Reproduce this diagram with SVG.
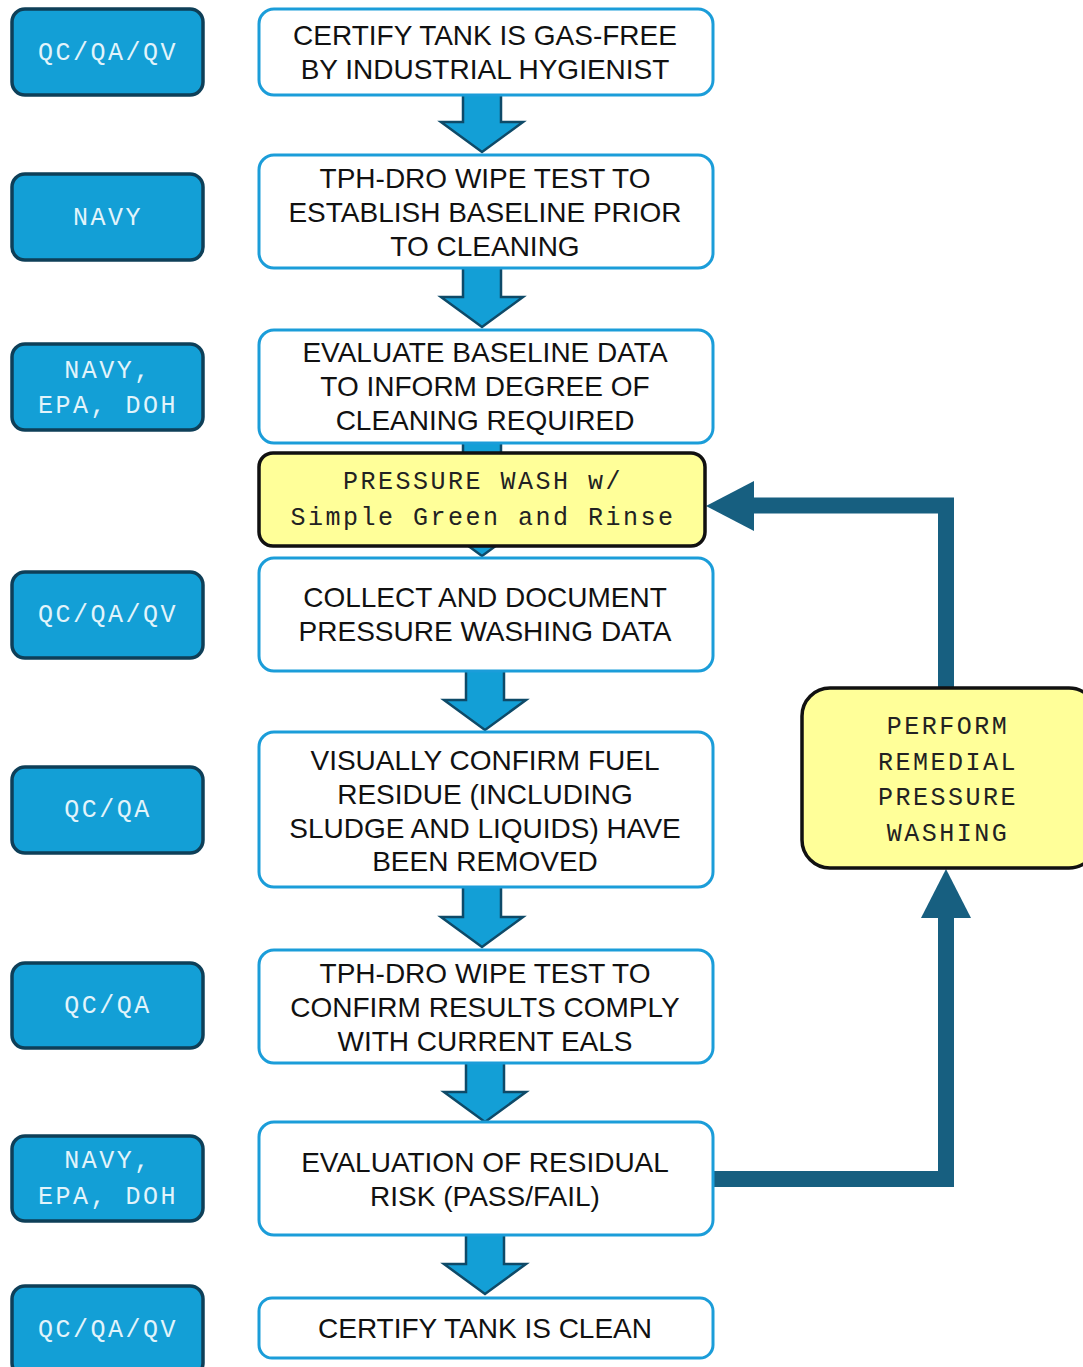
<svg xmlns="http://www.w3.org/2000/svg" width="1083" height="1367" viewBox="0 0 1083 1367">
<style>
.role rect{fill:#139fd6;stroke:#0e3f58;stroke-width:3.5}
.role text{font-family:"Liberation Mono",monospace;font-size:25px;letter-spacing:2.5px;fill:#e2f4fb;text-anchor:middle}
.step rect{fill:#fff;stroke:#1b9dd9;stroke-width:3}
.step text{font-family:"Liberation Sans",Arial,sans-serif;font-size:28px;fill:#111;text-anchor:middle}
.act rect{fill:#ffff99;stroke:#111;stroke-width:3.5}
.act text{font-family:"Liberation Mono",monospace;font-size:25px;letter-spacing:2.5px;fill:#222;text-anchor:middle}
.blk{fill:#139fd6;stroke:#0e4a68;stroke-width:2.5;stroke-linejoin:miter}
.fb{fill:none;stroke:#175f80;stroke-width:16;stroke-linejoin:miter}
.fbh{fill:#175f80}
</style>
<rect width="1083" height="1367" fill="#fff"/>

<g id="connectors">
  <polygon class="blk" points="463,93 501,93 501,122 523,122 482,152 441,122 463,122"/>
  <polygon class="blk" points="463,267 501,267 501,297 523,297 482,327 441,297 463,297"/>
  <polygon class="blk" points="463,442 501,442 501,526 523,526 482,556 441,526 463,526"/>
  <polygon class="blk" points="466,670 504,670 504,700 526,700 485,730 444,700 466,700"/>
  <polygon class="blk" points="463,886 501,886 501,917 523,917 482,947 441,917 463,917"/>
  <polygon class="blk" points="466,1062 504,1062 504,1092 526,1092 485,1122 444,1092 466,1092"/>
  <polygon class="blk" points="466,1234 504,1234 504,1264 526,1264 485,1294 444,1264 466,1264"/>
  <polyline class="fb" points="946,688 946,505.5 750,505.5"/>
  <polygon class="fbh" points="754,481 754,531 706,506"/>
  <polyline class="fb" points="713,1179 946,1179 946,912"/>
  <polygon class="fbh" points="921,918 971,918 946,869"/>
</g>

<g id="role1" class="role"><rect x="12" y="9" width="191" height="86" rx="13"/><text x="108" y="60">QC/QA/QV</text></g>
<g id="role2" class="role"><rect x="12" y="174" width="191" height="86" rx="13"/><text x="108" y="225">NAVY</text></g>
<g id="role3" class="role"><rect x="12" y="344" width="191" height="86" rx="13"/><text x="108" y="378">NAVY,</text><text x="108" y="413">EPA, DOH</text></g>
<g id="role4" class="role"><rect x="12" y="572" width="191" height="86" rx="13"/><text x="108" y="622">QC/QA/QV</text></g>
<g id="role5" class="role"><rect x="12" y="767" width="191" height="86" rx="13"/><text x="108" y="817">QC/QA</text></g>
<g id="role6" class="role"><rect x="12" y="963" width="191" height="85" rx="13"/><text x="108" y="1013">QC/QA</text></g>
<g id="role7" class="role"><rect x="12" y="1136" width="191" height="85" rx="13"/><text x="108" y="1168">NAVY,</text><text x="108" y="1204">EPA, DOH</text></g>
<g id="role8" class="role"><rect x="12" y="1286" width="191" height="90" rx="13"/><text x="108" y="1337">QC/QA/QV</text></g>

<g id="step1" class="step"><rect x="259" y="9" width="454" height="86" rx="15"/><text x="485" y="45">CERTIFY TANK IS GAS-FREE</text><text x="485" y="79">BY INDUSTRIAL HYGIENIST</text></g>
<g id="step2" class="step"><rect x="259" y="155" width="454" height="113" rx="15"/><text x="485" y="188">TPH-DRO WIPE TEST TO</text><text x="485" y="222">ESTABLISH BASELINE PRIOR</text><text x="485" y="256">TO CLEANING</text></g>
<g id="step3" class="step"><rect x="259" y="330" width="454" height="113" rx="15"/><text x="485" y="362">EVALUATE BASELINE DATA</text><text x="485" y="396">TO INFORM DEGREE OF</text><text x="485" y="430">CLEANING REQUIRED</text></g>
<g id="wash" class="act"><rect x="259" y="453" width="446" height="93" rx="14"/><text x="483" y="489">PRESSURE WASH w/</text><text x="483" y="525">Simple Green and Rinse</text></g>
<g id="step5" class="step"><rect x="259" y="558" width="454" height="113" rx="15"/><text x="485" y="607">COLLECT AND DOCUMENT</text><text x="485" y="641">PRESSURE WASHING DATA</text></g>
<g id="step6" class="step"><rect x="259" y="732" width="454" height="155" rx="15"/><text x="485" y="770">VISUALLY CONFIRM FUEL</text><text x="485" y="804">RESIDUE (INCLUDING</text><text x="485" y="838">SLUDGE AND LIQUIDS) HAVE</text><text x="485" y="871">BEEN REMOVED</text></g>
<g id="step7" class="step"><rect x="259" y="950" width="454" height="113" rx="15"/><text x="485" y="983">TPH-DRO WIPE TEST TO</text><text x="485" y="1017">CONFIRM RESULTS COMPLY</text><text x="485" y="1051">WITH CURRENT EALS</text></g>
<g id="step8" class="step"><rect x="259" y="1122" width="454" height="113" rx="15"/><text x="485" y="1172">EVALUATION OF RESIDUAL</text><text x="485" y="1206">RISK (PASS/FAIL)</text></g>
<g id="step9" class="step"><rect x="259" y="1298" width="454" height="60" rx="13"/><text x="485" y="1338">CERTIFY TANK IS CLEAN</text></g>
<g id="remedial" class="act"><rect x="802" y="688" width="295" height="180" rx="28"/><text x="948" y="734">PERFORM</text><text x="948" y="770">REMEDIAL</text><text x="948" y="805">PRESSURE</text><text x="948" y="841">WASHING</text></g>
</svg>
